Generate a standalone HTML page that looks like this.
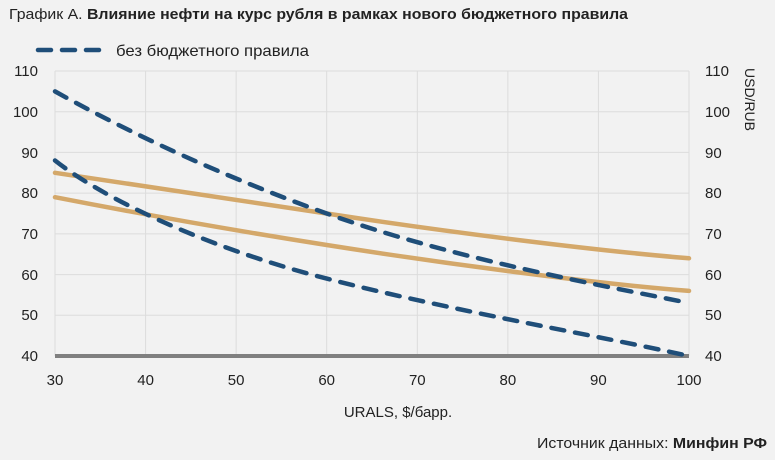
<!DOCTYPE html>
<html><head><meta charset="utf-8"><style>
body{margin:0;background:#f2f2f2;}
svg{display:block;font-family:"Liberation Sans","DejaVu Sans",sans-serif;}
</style></head><body>
<svg width="775" height="460" viewBox="0 0 775 460">
<rect width="775" height="460" fill="#f2f2f2"/>
<text x="9" y="19" font-size="15" fill="#222" textLength="619" lengthAdjust="spacingAndGlyphs">График А. <tspan font-weight="bold">Влияние нефти на курс рубля в рамках нового бюджетного правила</tspan></text>
<line x1="38" y1="50" x2="107" y2="50" stroke="#1f4e79" stroke-width="4.5" stroke-dasharray="13,11" stroke-linecap="round"/>
<text x="116" y="56" font-size="16" fill="#222" textLength="193" lengthAdjust="spacingAndGlyphs">без бюджетного правила</text>
<g stroke="#dcdcdc" stroke-width="1">
<line x1="55" y1="71" x2="689" y2="71"/><line x1="55" y1="111.7" x2="689" y2="111.7"/><line x1="55" y1="152.4" x2="689" y2="152.4"/><line x1="55" y1="193.1" x2="689" y2="193.1"/><line x1="55" y1="233.9" x2="689" y2="233.9"/><line x1="55" y1="274.6" x2="689" y2="274.6"/><line x1="55" y1="315.3" x2="689" y2="315.3"/>
<line x1="55" y1="71" x2="55" y2="356"/><line x1="145.6" y1="71" x2="145.6" y2="356"/><line x1="236.1" y1="71" x2="236.1" y2="356"/><line x1="326.7" y1="71" x2="326.7" y2="356"/><line x1="417.3" y1="71" x2="417.3" y2="356"/><line x1="507.9" y1="71" x2="507.9" y2="356"/><line x1="598.4" y1="71" x2="598.4" y2="356"/><line x1="689" y1="71" x2="689" y2="356"/>
</g>
<line x1="55" y1="356" x2="689" y2="356" stroke="#808080" stroke-width="4"/>
<g font-size="15" fill="#222" text-anchor="end">
<text x="38" y="76">110</text><text x="38" y="117">100</text><text x="38" y="158">90</text><text x="38" y="198">80</text><text x="38" y="239">70</text><text x="38" y="280">60</text><text x="38" y="320">50</text><text x="38" y="361">40</text>
</g>
<g font-size="15" fill="#222">
<text x="705" y="76">110</text><text x="705" y="117">100</text><text x="705" y="158">90</text><text x="705" y="198">80</text><text x="705" y="239">70</text><text x="705" y="280">60</text><text x="705" y="320">50</text><text x="705" y="361">40</text>
</g>
<text transform="translate(745,68) rotate(90)" font-size="14" fill="#222">USD/RUB</text>
<g font-size="15" fill="#222" text-anchor="middle">
<text x="55" y="385">30</text><text x="145.6" y="385">40</text><text x="236.1" y="385">50</text><text x="326.7" y="385">60</text><text x="417.3" y="385">70</text><text x="507.9" y="385">80</text><text x="598.4" y="385">90</text><text x="689" y="385">100</text>
</g>
<text x="398" y="417" font-size="15" fill="#222" text-anchor="middle">URALS, $/барр.</text>
<text x="767" y="448" font-size="15" fill="#222" text-anchor="end" textLength="230" lengthAdjust="spacingAndGlyphs">Источник данных: <tspan font-weight="bold">Минфин РФ</tspan></text>
<g fill="none" stroke="#d4a86a" stroke-width="4.5" stroke-linecap="round">
<path d="M55,172.8 C100,180 200,194 326.7,213.5 S600,251 689,258.3"/>
<path d="M55,197.2 C100,206 200,225 326.7,245 S600,284 689,290.9"/>
</g>
<g fill="none" stroke="#1f4e79" stroke-width="4.5" stroke-dasharray="13,11" stroke-linecap="round">
<path d="M55,91.4 C110,122 200,168 326.7,213.5 S600,285 689,303"/>
<path d="M55,160.5 C100,196 200,246 326.7,278.6 S600,336 689,356"/>
</g>
</svg>
</body></html>
